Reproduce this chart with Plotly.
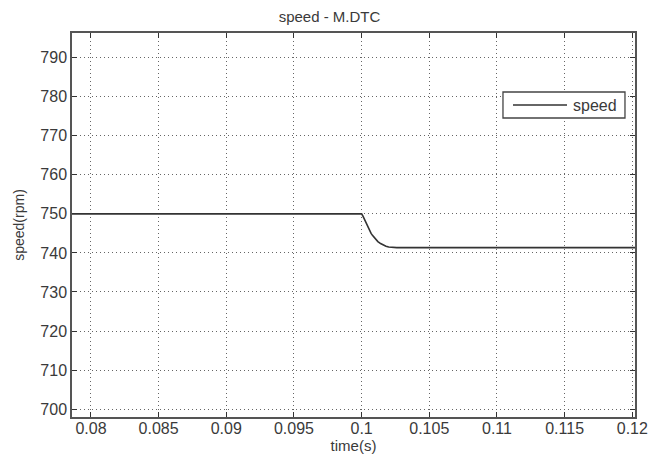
import plotly.graph_objects as go

time_s = [0.0786, 0.0900, 0.1000, 0.1001, 0.1002, 0.1003, 0.1004, 0.1005,
          0.1006, 0.1007, 0.1008, 0.1010, 0.1012, 0.1014, 0.1016, 0.1018,
          0.1020, 0.1023, 0.1026, 0.1100, 0.1202]
speed_rpm = [750.0, 750.0, 750.0, 749.4, 748.6, 747.8, 747.0, 746.3,
             745.6, 745.0, 744.5, 743.6, 742.9, 742.4, 742.0, 741.7,
             741.5, 741.4, 741.35, 741.35, 741.35]

x_ticks = [0.08, 0.085, 0.09, 0.095, 0.1, 0.105, 0.11, 0.115, 0.12]
x_labels = ["0.08", "0.085", "0.09", "0.095", "0.1", "0.105", "0.11", "0.115", "0.12"]
y_ticks = [700, 710, 720, 730, 740, 750, 760, 770, 780, 790]
series_name = "speed"

FONT = "Liberation Sans, Arial"
TXT = "#3a3a3a"

fig = go.Figure()
fig.add_trace(go.Scatter(x=time_s, y=speed_rpm, mode="lines", name=series_name,
                         showlegend=False,
                         line=dict(color="#333333", width=1.6)))

axis_common = dict(showline=True, linecolor="#555555", linewidth=1.5, mirror="ticks",
                   ticks="inside", ticklen=5, tickcolor="#333333",
                   showgrid=True, gridcolor="#666666", griddash="1px,3px", gridwidth=1,
                   zeroline=False, automargin=False,
                   tickfont=dict(family=FONT, size=16, color=TXT))

# legend box drawn in plot-area (paper) coordinates, MATLAB style
fig.add_shape(type="rect", xref="paper", yref="paper",
              x0=0.7655, x1=0.9822, y0=0.7786, y1=0.8464,
              line=dict(color="#444444", width=1.3), fillcolor="white", layer="above")
fig.add_shape(type="line", xref="paper", yref="paper",
              x0=0.7833, x1=0.8792, y0=0.8125, y1=0.8125,
              line=dict(color="#333333", width=1.6), layer="above")
fig.add_annotation(xref="paper", yref="paper", x=0.886, y=0.8125,
                   xanchor="left", yanchor="middle", showarrow=False,
                   text=series_name, font=dict(family=FONT, size=16, color=TXT))

fig.update_layout(
    width=659, height=459,
    margin=dict(l=72, r=24, t=33, b=42),
    paper_bgcolor="white", plot_bgcolor="white",
    title=dict(text="speed - M.DTC", x=0.5, xanchor="center", y=0.964, yanchor="middle",
               font=dict(family=FONT, size=15, color=TXT)),
    xaxis=dict(range=[0.0786, 0.1202], tickvals=x_ticks, ticktext=x_labels,
               ticklabelstandoff=-4,
               title=dict(text="time(s)", standoff=0,
                          font=dict(family=FONT, size=15, color=TXT)),
               **axis_common),
    yaxis=dict(range=[698.0, 796.3], tickvals=y_ticks,
               title=dict(text="speed(rpm)", standoff=12,
                          font=dict(family=FONT, size=14, color=TXT)),
               **axis_common),
    showlegend=False,
)

fig.write_html("out.html", config={"displayModeBar": False},
               post_script="document.body.style.margin='0';")
